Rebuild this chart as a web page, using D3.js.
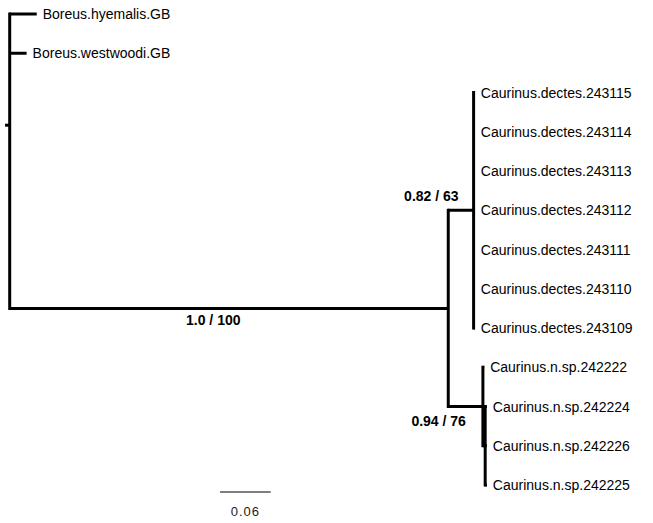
<!DOCTYPE html>
<html>
<head>
<meta charset="utf-8">
<script src="https://cdn.jsdelivr.net/npm/d3@7"></script>
<style>
  html, body { margin: 0; padding: 0; background: #fff; }
  svg { display: block; }
  text { font-family: "Liberation Sans", Arial, Helvetica, sans-serif; }
</style>
</head>
<body>
<script>
// ---- Data ----
const tipLabels = [
  "Boreus.hyemalis.GB",
  "Boreus.westwoodi.GB",
  "Caurinus.dectes.243115",
  "Caurinus.dectes.243114",
  "Caurinus.dectes.243113",
  "Caurinus.dectes.243112",
  "Caurinus.dectes.243111",
  "Caurinus.dectes.243110",
  "Caurinus.dectes.243109",
  "Caurinus.n.sp.242222",
  "Caurinus.n.sp.242224",
  "Caurinus.n.sp.242226",
  "Caurinus.n.sp.242225"
];
const edgeChild = [
  "root",
  "Boreus.hyemalis.GB", "Boreus.westwoodi.GB", "Caurinus",
  "dectes", "nsp",
  "Caurinus.dectes.243115", "Caurinus.dectes.243114", "Caurinus.dectes.243113",
  "Caurinus.dectes.243112", "Caurinus.dectes.243111", "Caurinus.dectes.243110",
  "Caurinus.dectes.243109",
  "Caurinus.n.sp.242222", "nsp2",
  "Caurinus.n.sp.242224", "Caurinus.n.sp.242226", "Caurinus.n.sp.242225"
];
const edgeParent = [
  null,
  "root", "root", "root",
  "Caurinus", "Caurinus",
  "dectes", "dectes", "dectes", "dectes", "dectes", "dectes", "dectes",
  "nsp", "nsp",
  "nsp2", "nsp2", "nsp2"
];
const edgeLength = [
  0.0055,
  0.032, 0.020, 0.519,
  0.030, 0.041,
  0.0015, 0.0015, 0.0015, 0.0015, 0.0015, 0.0015, 0.0015,
  0.0015, 0.0027,
  0.002, 0.002, 0.002
];
const supportNodes = ["Caurinus", "dectes", "nsp"];
const supportLabels = ["1.0 / 100", "0.82 / 63", "0.94 / 76"];
const scaleBarValue = 0.06;
const scaleBarLabel = "0.06";

// ---- Build tree ----
const rows = edgeChild.map((c, i) => ({ id: c, parent: edgeParent[i], len: edgeLength[i] }));
const root = d3.stratify().id(d => d.id).parentId(d => d.parent)(rows);

// ---- Scales ----
const W = 653, H = 523;
const rootX = 9.7;
const pxPerUnit = 845;
const x = d3.scaleLinear().domain([0, 1]).range([rootX, rootX + pxPerUnit]);
const y = d3.scalePoint().domain(tipLabels).range([14, 485]);

// depths
root.eachBefore(n => { n.dist = n.parent ? n.parent.dist + n.data.len : 0; });
// y positions: tips from scale, internal nodes = mean of children
root.eachAfter(n => {
  if (!n.children) n.yy = y(n.id);
  else n.yy = d3.mean(n.children, c => c.yy);
});

const svg = d3.select("body").append("svg").attr("width", W).attr("height", H);
const g = svg.append("g").attr("stroke", "#000").attr("stroke-width", 3).attr("fill", "none");

// root edge
g.append("line")
  .attr("x1", x(-root.data.len)).attr("x2", x(0))
  .attr("y1", root.yy).attr("y2", root.yy)
  .attr("stroke-linecap", "butt");

// vertical connectors
root.descendants().filter(n => n.children).forEach(n => {
  const ys = n.children.map(c => c.yy);
  g.append("line")
    .attr("x1", x(n.dist)).attr("x2", x(n.dist))
    .attr("y1", d3.min(ys)).attr("y2", d3.max(ys))
    .attr("stroke-linecap", "square");
});
// horizontal edges
root.descendants().filter(n => n.parent).forEach(n => {
  g.append("line")
    .attr("x1", x(n.parent.dist)).attr("x2", x(n.dist))
    .attr("y1", n.yy).attr("y2", n.yy)
    .attr("stroke-linecap", "butt");
});

// tip labels
svg.append("g").selectAll("text")
  .data(root.leaves())
  .join("text")
  .attr("x", d => x(d.dist) + 6)
  .attr("y", d => d.yy)
  .attr("dy", "0.36em")
  .attr("font-size", 14)
  .attr("fill", "#000")
  .text(d => d.id);

// support labels
const supportPlace = {
  "Caurinus": { dx: -235, dy: 16.5, anchor: "middle" },
  "dectes": { dx: -15, dy: -8.8, anchor: "end" },
  "nsp": { dx: -17, dy: 19.5, anchor: "end" }
};
supportNodes.forEach((id, i) => {
  const n = root.find(d => d.id === id);
  const p = supportPlace[id];
  svg.append("text")
    .attr("x", x(n.dist) + p.dx)
    .attr("y", n.yy + p.dy)
    .attr("text-anchor", p.anchor)
    .attr("font-size", 14)
    .attr("font-weight", "bold")
    .attr("fill", "#000")
    .text(supportLabels[i]);
});

// scale bar
const sbX = 220, sbY = 492;
const sbLen = x(scaleBarValue) - x(0);
svg.append("line")
  .attr("x1", sbX).attr("x2", sbX + sbLen)
  .attr("y1", sbY).attr("y2", sbY)
  .attr("stroke", "#000").attr("stroke-width", 1.2);
svg.append("text")
  .attr("x", sbX + sbLen / 2)
  .attr("y", sbY + 24)
  .attr("text-anchor", "middle")
  .attr("font-size", 13)
  .attr("letter-spacing", 1)
  .attr("fill", "#222")
  .text(scaleBarLabel);
</script>
</body>
</html>
